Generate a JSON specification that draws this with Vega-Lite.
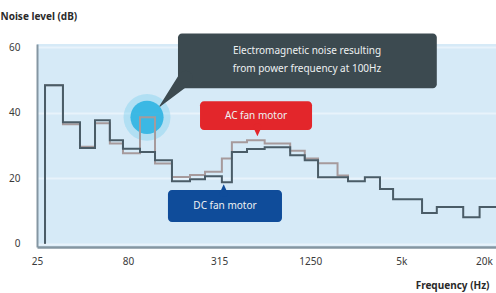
{
  "$schema": "https://vega.github.io/schema/vega-lite/v6.json",
  "autosize": {"type": "none"},
  "width": 459,
  "height": 203,
  "padding": {"left": 37, "top": 44, "right": 0, "bottom": 46},
  "background": "white",
  "config": {
    "view": {"stroke": null, "fill": "#d6eaf7"},
    "font": "Noto Sans"
  },
  "resolve": {
    "scale": {"color": "independent"},
    "axis": {"x": "independent", "y": "independent"}
  },
  "datasets": {
    "curves": [
      {"series": "AC fan motor", "band": 0.088, "level": 0},
      {"series": "AC fan motor", "band": 0.088, "level": 48.4},
      {"series": "AC fan motor", "band": 0.285, "level": 36.5},
      {"series": "AC fan motor", "band": 0.472, "level": 29.6},
      {"series": "AC fan motor", "band": 0.637, "level": 36.8},
      {"series": "AC fan motor", "band": 0.8, "level": 30.6},
      {"series": "AC fan motor", "band": 0.944, "level": 27.6},
      {"series": "AC fan motor", "band": 1.131, "level": 38.6},
      {"series": "AC fan motor", "band": 1.296, "level": 24.5},
      {"series": "AC fan motor", "band": 1.482, "level": 20.4},
      {"series": "AC fan motor", "band": 1.68, "level": 21.0},
      {"series": "AC fan motor", "band": 1.845, "level": 22.0},
      {"series": "AC fan motor", "band": 2.03, "level": 26.0},
      {"series": "AC fan motor", "band": 2.14, "level": 31.0},
      {"series": "AC fan motor", "band": 2.306, "level": 31.6},
      {"series": "AC fan motor", "band": 2.5, "level": 30.6},
      {"series": "AC fan motor", "band": 2.78, "level": 28.4},
      {"series": "AC fan motor", "band": 2.94, "level": 26.0},
      {"series": "AC fan motor", "band": 3.086, "level": 24.6},
      {"series": "AC fan motor", "band": 3.3, "level": 20.8},
      {"series": "AC fan motor", "band": 3.415, "level": 19.1},
      {"series": "DC fan motor", "band": 0.088, "level": 0},
      {"series": "DC fan motor", "band": 0.088, "level": 48.4},
      {"series": "DC fan motor", "band": 0.285, "level": 37.1},
      {"series": "DC fan motor", "band": 0.472, "level": 29.2},
      {"series": "DC fan motor", "band": 0.637, "level": 37.7},
      {"series": "DC fan motor", "band": 0.8, "level": 31.6},
      {"series": "DC fan motor", "band": 0.944, "level": 29.0},
      {"series": "DC fan motor", "band": 1.131, "level": 28.0},
      {"series": "DC fan motor", "band": 1.296, "level": 25.5},
      {"series": "DC fan motor", "band": 1.482, "level": 19.1},
      {"series": "DC fan motor", "band": 1.68, "level": 19.7},
      {"series": "DC fan motor", "band": 1.845, "level": 20.6},
      {"series": "DC fan motor", "band": 2.03, "level": 18.8},
      {"series": "DC fan motor", "band": 2.14, "level": 28.0},
      {"series": "DC fan motor", "band": 2.306, "level": 28.9},
      {"series": "DC fan motor", "band": 2.5, "level": 29.5},
      {"series": "DC fan motor", "band": 2.78, "level": 27.0},
      {"series": "DC fan motor", "band": 2.94, "level": 25.5},
      {"series": "DC fan motor", "band": 3.086, "level": 20.3},
      {"series": "DC fan motor", "band": 3.415, "level": 19.1},
      {"series": "DC fan motor", "band": 3.6, "level": 20.3},
      {"series": "DC fan motor", "band": 3.766, "level": 16.7},
      {"series": "DC fan motor", "band": 3.91, "level": 13.6},
      {"series": "DC fan motor", "band": 4.228, "level": 9.4},
      {"series": "DC fan motor", "band": 4.39, "level": 11.2},
      {"series": "DC fan motor", "band": 4.68, "level": 8.1},
      {"series": "DC fan motor", "band": 4.86, "level": 11.2},
      {"series": "DC fan motor", "band": 5.04, "level": 11.2}
    ],
    "boxes": [
      {"kind": "note", "x1": 1.548, "x2": 4.39, "y1": 64.2, "y2": 47.5},
      {"kind": "ac", "x1": 1.79, "x2": 3.02, "y1": 43.5, "y2": 34.7},
      {"kind": "dc", "x1": 1.438, "x2": 2.69, "y1": 16.4, "y2": 6.6}
    ],
    "pointers": [
      {"kind": "note", "band": 1.63, "level": 50.5, "w": 15},
      {"kind": "note", "band": 1.35, "level": 42.0, "w": 1},
      {"kind": "ac", "band": 2.42, "level": 35.5, "w": 8},
      {"kind": "ac", "band": 2.42, "level": 33.0, "w": 0.5},
      {"kind": "dc", "band": 2.05, "level": 15.5, "w": 8},
      {"kind": "dc", "band": 2.05, "level": 18.0, "w": 0.5}
    ],
    "labels": [
      {"kind": "note", "band": 2.965, "level": 59.0, "text": "Electromagnetic noise resulting"},
      {"kind": "note", "band": 2.965, "level": 53.3, "text": "from power frequency at 100Hz"},
      {"kind": "ac", "band": 2.405, "level": 39.1, "text": "AC fan motor"},
      {"kind": "dc", "band": 2.064, "level": 11.5, "text": "DC fan motor"}
    ],
    "spot": [
      {"band": 1.208, "level": 38.6}
    ]
  },
  "layer": [
    {
      "data": {"name": "spot"},
      "mark": {"type": "point", "filled": true, "shape": "circle", "size": 2200, "color": "#5cc8ea", "opacity": 0.3},
      "encoding": {
        "x": {"field": "band", "type": "quantitative", "axis": null, "scale": {"domain": [0, 5.04], "nice": false, "zero": false}},
        "y": {"field": "level", "type": "quantitative", "axis": null, "scale": {"domain": [-1, 61], "nice": false, "zero": false}}
      }
    },
    {
      "data": {"name": "spot"},
      "mark": {"type": "point", "filled": true, "shape": "circle", "size": 1100, "color": "#2fb4e2", "opacity": 0.9},
      "encoding": {
        "x": {"field": "band", "type": "quantitative", "axis": null},
        "y": {"field": "level", "type": "quantitative", "axis": null}
      }
    },
    {
      "data": {"name": "curves"},
      "mark": {"type": "line", "interpolate": "step-after", "strokeWidth": 2},
      "encoding": {
        "x": {"field": "band", "type": "quantitative",
          "axis": {"values": [0, 1, 2, 3, 4, 5], "title": "Frequency (Hz)",
            "labelExpr": "['25','80','315','1250','5k','20k'][round(datum.value)]",
            "labelAlign": {"condition": {"test": "datum.value == 5", "value": "right"}, "value": "center"},
            "domainColor": "#8496a2", "domainWidth": 2.5, "ticks": false, "grid": false,
            "labelColor": "#3a3a3a", "labelFontSize": 10, "labelPadding": 9, "labelFont": "Noto Sans",
            "labelOverlap": false, "labelBound": false, "labelFlush": false,
            "titleFontSize": 10, "titleFontWeight": "bold", "titleColor": "#2a2a2a",
            "titleAnchor": "end", "titleAlign": "right", "titleX": 452, "titleY": 38, "titleBaseline": "middle"}},
        "y": {"field": "level", "type": "quantitative",
          "axis": {"values": [0, 20, 40, 60], "title": "Noise level (dB)",
            "domainColor": "#8496a2", "domainWidth": 2, "ticks": false,
            "grid": true, "gridColor": "#ffffff", "gridOpacity": 0.45, "gridWidth": 2,
            "labelColor": "#3a3a3a", "labelFontSize": 10, "labelPadding": 17, "labelFont": "Noto Sans",
            "labelOverlap": false,
            "titleFontSize": 10, "titleFontWeight": "bold", "titleColor": "#2a2a2a",
            "titleAngle": 0, "titleAlign": "left", "titleAnchor": "start", "titleX": -37, "titleY": -28, "titleBaseline": "middle"}},
        "color": {"field": "series", "type": "nominal",
          "scale": {"domain": ["AC fan motor", "DC fan motor"], "range": ["#a69a9c", "#4a5c67"]}, "legend": null},
        "order": {"field": "series"}
      }
    },
    {
      "data": {"name": "boxes"},
      "mark": {"type": "rect", "cornerRadius": 4},
      "encoding": {
        "x": {"field": "x1", "type": "quantitative", "axis": null},
        "x2": {"field": "x2"},
        "y": {"field": "y1", "type": "quantitative", "axis": null},
        "y2": {"field": "y2"},
        "color": {"field": "kind", "type": "nominal", "scale": {"domain": ["note", "ac", "dc"], "range": ["#3c4a50", "#e3262b", "#0f4c9a"]}, "legend": null}
      }
    },
    {
      "data": {"name": "pointers"},
      "mark": {"type": "trail"},
      "encoding": {
        "x": {"field": "band", "type": "quantitative", "axis": null},
        "y": {"field": "level", "type": "quantitative", "axis": null},
        "size": {"field": "w", "type": "quantitative", "scale": null},
        "detail": {"field": "kind"},
        "color": {"field": "kind", "type": "nominal", "scale": {"domain": ["note", "ac", "dc"], "range": ["#3c4a50", "#e3262b", "#0f4c9a"]}, "legend": null}
      }
    },
    {
      "data": {"name": "labels"},
      "mark": {"type": "text", "fontSize": 10, "align": "center", "baseline": "middle", "color": "#eef1f2"},
      "encoding": {
        "x": {"field": "band", "type": "quantitative", "axis": null},
        "y": {"field": "level", "type": "quantitative", "axis": null},
        "text": {"field": "text"}
      }
    }
  ]
}
